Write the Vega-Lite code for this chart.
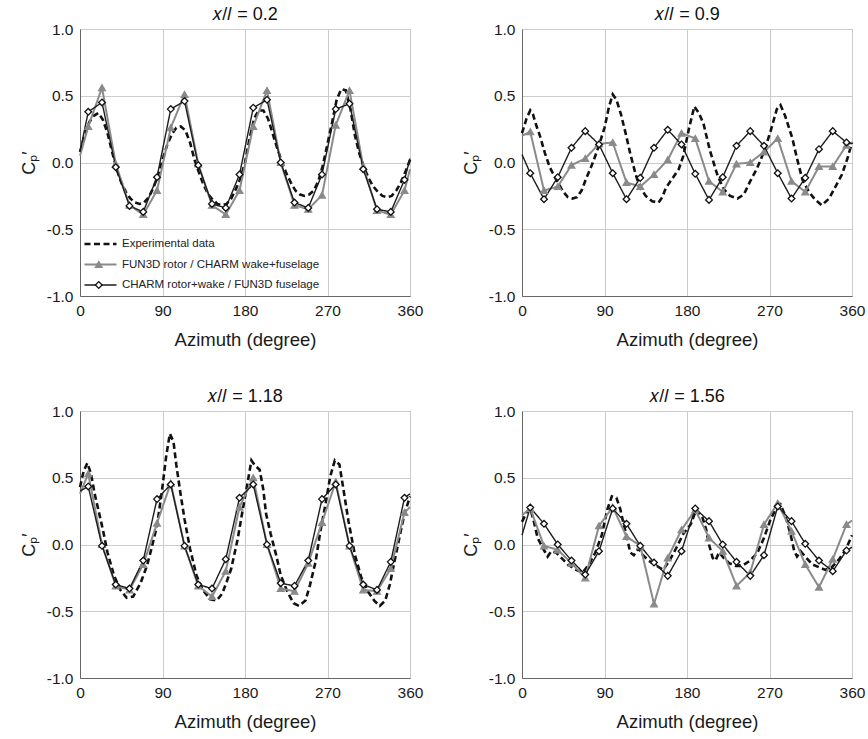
{
  "$schema": "https://vega.github.io/schema/vega-lite/v6.json",
  "padding": {"left": 19, "top": 5, "right": 5, "bottom": 5},
  "bounds": "flush",
  "columns": 2,
  "spacing": {"row": 115, "column": 112},
  "datasets": {
    "names": [
      {"s": "E", "series": "Experimental data"},
      {"s": "F", "series": "FUN3D rotor / CHARM wake+fuselage"},
      {"s": "C", "series": "CHARM rotor+wake / FUN3D fuselage"}
    ],
    "d": [
      {"p":1,"s":"E","az":0,"cp":0.08},{"p":1,"s":"E","az":5,"cp":0.2},{"p":1,"s":"E","az":10,"cp":0.3},{"p":1,"s":"E","az":15,"cp":0.35},{"p":1,"s":"E","az":20,"cp":0.37},{"p":1,"s":"E","az":25,"cp":0.32},{"p":1,"s":"E","az":30,"cp":0.22},{"p":1,"s":"E","az":35,"cp":0.08},{"p":1,"s":"E","az":40,"cp":-0.05},{"p":1,"s":"E","az":45,"cp":-0.15},{"p":1,"s":"E","az":50,"cp":-0.22},{"p":1,"s":"E","az":55,"cp":-0.27},{"p":1,"s":"E","az":60,"cp":-0.3},{"p":1,"s":"E","az":65,"cp":-0.31},{"p":1,"s":"E","az":70,"cp":-0.3},{"p":1,"s":"E","az":75,"cp":-0.26},{"p":1,"s":"E","az":80,"cp":-0.19},{"p":1,"s":"E","az":85,"cp":-0.1},{"p":1,"s":"E","az":90,"cp":0.02},{"p":1,"s":"E","az":95,"cp":0.13},{"p":1,"s":"E","az":100,"cp":0.21},{"p":1,"s":"E","az":105,"cp":0.26},{"p":1,"s":"E","az":110,"cp":0.27},{"p":1,"s":"E","az":115,"cp":0.24},{"p":1,"s":"E","az":120,"cp":0.15},{"p":1,"s":"E","az":125,"cp":0.02},{"p":1,"s":"E","az":130,"cp":-0.08},{"p":1,"s":"E","az":135,"cp":-0.17},{"p":1,"s":"E","az":140,"cp":-0.24},{"p":1,"s":"E","az":145,"cp":-0.28},{"p":1,"s":"E","az":150,"cp":-0.31},{"p":1,"s":"E","az":155,"cp":-0.32},{"p":1,"s":"E","az":160,"cp":-0.31},{"p":1,"s":"E","az":165,"cp":-0.27},{"p":1,"s":"E","az":170,"cp":-0.2},{"p":1,"s":"E","az":175,"cp":-0.12},{"p":1,"s":"E","az":180,"cp":0.0},{"p":1,"s":"E","az":185,"cp":0.18},{"p":1,"s":"E","az":190,"cp":0.33},{"p":1,"s":"E","az":195,"cp":0.39},{"p":1,"s":"E","az":200,"cp":0.39},{"p":1,"s":"E","az":205,"cp":0.33},{"p":1,"s":"E","az":210,"cp":0.22},{"p":1,"s":"E","az":215,"cp":0.11},{"p":1,"s":"E","az":220,"cp":0.01},{"p":1,"s":"E","az":225,"cp":-0.08},{"p":1,"s":"E","az":230,"cp":-0.15},{"p":1,"s":"E","az":235,"cp":-0.21},{"p":1,"s":"E","az":240,"cp":-0.24},{"p":1,"s":"E","az":245,"cp":-0.25},{"p":1,"s":"E","az":250,"cp":-0.24},{"p":1,"s":"E","az":255,"cp":-0.21},{"p":1,"s":"E","az":260,"cp":-0.14},{"p":1,"s":"E","az":265,"cp":-0.02},{"p":1,"s":"E","az":270,"cp":0.14},{"p":1,"s":"E","az":275,"cp":0.3},{"p":1,"s":"E","az":280,"cp":0.47},{"p":1,"s":"E","az":285,"cp":0.55},{"p":1,"s":"E","az":290,"cp":0.54},{"p":1,"s":"E","az":295,"cp":0.4},{"p":1,"s":"E","az":300,"cp":0.2},{"p":1,"s":"E","az":305,"cp":0.06},{"p":1,"s":"E","az":310,"cp":-0.04},{"p":1,"s":"E","az":315,"cp":-0.12},{"p":1,"s":"E","az":320,"cp":-0.18},{"p":1,"s":"E","az":325,"cp":-0.22},{"p":1,"s":"E","az":330,"cp":-0.25},{"p":1,"s":"E","az":335,"cp":-0.26},{"p":1,"s":"E","az":340,"cp":-0.25},{"p":1,"s":"E","az":345,"cp":-0.21},{"p":1,"s":"E","az":350,"cp":-0.15},{"p":1,"s":"E","az":355,"cp":-0.07},{"p":1,"s":"E","az":360,"cp":0.02},
      {"p":1,"s":"F","az":0,"cp":0.05},{"p":1,"s":"F","az":9,"cp":0.27},{"p":1,"s":"F","az":24,"cp":0.56},{"p":1,"s":"F","az":39,"cp":-0.01},{"p":1,"s":"F","az":54,"cp":-0.32},{"p":1,"s":"F","az":69,"cp":-0.39},{"p":1,"s":"F","az":84,"cp":-0.21},{"p":1,"s":"F","az":99,"cp":0.26},{"p":1,"s":"F","az":114,"cp":0.51},{"p":1,"s":"F","az":129,"cp":-0.01},{"p":1,"s":"F","az":144,"cp":-0.32},{"p":1,"s":"F","az":159,"cp":-0.39},{"p":1,"s":"F","az":174,"cp":-0.21},{"p":1,"s":"F","az":189,"cp":0.27},{"p":1,"s":"F","az":204,"cp":0.54},{"p":1,"s":"F","az":219,"cp":0.0},{"p":1,"s":"F","az":234,"cp":-0.32},{"p":1,"s":"F","az":249,"cp":-0.35},{"p":1,"s":"F","az":264,"cp":-0.245},{"p":1,"s":"F","az":279,"cp":0.28},{"p":1,"s":"F","az":294,"cp":0.54},{"p":1,"s":"F","az":309,"cp":-0.03},{"p":1,"s":"F","az":324,"cp":-0.36},{"p":1,"s":"F","az":339,"cp":-0.39},{"p":1,"s":"F","az":354,"cp":-0.21},{"p":1,"s":"F","az":360,"cp":-0.05},
      {"p":1,"s":"C","az":0,"cp":0.08},{"p":1,"s":"C","az":9,"cp":0.38},{"p":1,"s":"C","az":24,"cp":0.45},{"p":1,"s":"C","az":39,"cp":-0.035},{"p":1,"s":"C","az":54,"cp":-0.325},{"p":1,"s":"C","az":69,"cp":-0.37},{"p":1,"s":"C","az":84,"cp":-0.11},{"p":1,"s":"C","az":99,"cp":0.4},{"p":1,"s":"C","az":114,"cp":0.46},{"p":1,"s":"C","az":129,"cp":-0.02},{"p":1,"s":"C","az":144,"cp":-0.31},{"p":1,"s":"C","az":159,"cp":-0.34},{"p":1,"s":"C","az":174,"cp":-0.09},{"p":1,"s":"C","az":189,"cp":0.41},{"p":1,"s":"C","az":204,"cp":0.47},{"p":1,"s":"C","az":219,"cp":0.0},{"p":1,"s":"C","az":234,"cp":-0.3},{"p":1,"s":"C","az":249,"cp":-0.34},{"p":1,"s":"C","az":264,"cp":-0.09},{"p":1,"s":"C","az":279,"cp":0.4},{"p":1,"s":"C","az":294,"cp":0.44},{"p":1,"s":"C","az":309,"cp":-0.05},{"p":1,"s":"C","az":324,"cp":-0.35},{"p":1,"s":"C","az":339,"cp":-0.37},{"p":1,"s":"C","az":354,"cp":-0.13},{"p":1,"s":"C","az":360,"cp":0.03},

      {"p":2,"s":"E","az":0,"cp":0.22},{"p":2,"s":"E","az":5,"cp":0.33},{"p":2,"s":"E","az":9,"cp":0.39},{"p":2,"s":"E","az":12,"cp":0.36},{"p":2,"s":"E","az":15,"cp":0.29},{"p":2,"s":"E","az":20,"cp":0.19},{"p":2,"s":"E","az":25,"cp":0.07},{"p":2,"s":"E","az":30,"cp":-0.03},{"p":2,"s":"E","az":35,"cp":-0.1},{"p":2,"s":"E","az":40,"cp":-0.16},{"p":2,"s":"E","az":45,"cp":-0.22},{"p":2,"s":"E","az":50,"cp":-0.26},{"p":2,"s":"E","az":55,"cp":-0.27},{"p":2,"s":"E","az":60,"cp":-0.26},{"p":2,"s":"E","az":65,"cp":-0.21},{"p":2,"s":"E","az":70,"cp":-0.12},{"p":2,"s":"E","az":75,"cp":-0.04},{"p":2,"s":"E","az":80,"cp":0.05},{"p":2,"s":"E","az":85,"cp":0.15},{"p":2,"s":"E","az":90,"cp":0.26},{"p":2,"s":"E","az":95,"cp":0.42},{"p":2,"s":"E","az":99,"cp":0.51},{"p":2,"s":"E","az":103,"cp":0.47},{"p":2,"s":"E","az":108,"cp":0.36},{"p":2,"s":"E","az":113,"cp":0.22},{"p":2,"s":"E","az":118,"cp":0.07},{"p":2,"s":"E","az":124,"cp":-0.09},{"p":2,"s":"E","az":129,"cp":-0.19},{"p":2,"s":"E","az":135,"cp":-0.25},{"p":2,"s":"E","az":142,"cp":-0.29},{"p":2,"s":"E","az":149,"cp":-0.3},{"p":2,"s":"E","az":153,"cp":-0.26},{"p":2,"s":"E","az":157,"cp":-0.19},{"p":2,"s":"E","az":164,"cp":-0.12},{"p":2,"s":"E","az":171,"cp":-0.05},{"p":2,"s":"E","az":176,"cp":0.05},{"p":2,"s":"E","az":182,"cp":0.25},{"p":2,"s":"E","az":188,"cp":0.42},{"p":2,"s":"E","az":193,"cp":0.37},{"p":2,"s":"E","az":198,"cp":0.29},{"p":2,"s":"E","az":205,"cp":0.09},{"p":2,"s":"E","az":213,"cp":-0.09},{"p":2,"s":"E","az":220,"cp":-0.2},{"p":2,"s":"E","az":227,"cp":-0.25},{"p":2,"s":"E","az":235,"cp":-0.27},{"p":2,"s":"E","az":242,"cp":-0.24},{"p":2,"s":"E","az":249,"cp":-0.14},{"p":2,"s":"E","az":256,"cp":-0.05},{"p":2,"s":"E","az":264,"cp":0.08},{"p":2,"s":"E","az":271,"cp":0.23},{"p":2,"s":"E","az":278,"cp":0.4},{"p":2,"s":"E","az":282,"cp":0.43},{"p":2,"s":"E","az":287,"cp":0.35},{"p":2,"s":"E","az":295,"cp":0.18},{"p":2,"s":"E","az":300,"cp":0.03},{"p":2,"s":"E","az":306,"cp":-0.13},{"p":2,"s":"E","az":313,"cp":-0.22},{"p":2,"s":"E","az":320,"cp":-0.28},{"p":2,"s":"E","az":327,"cp":-0.32},{"p":2,"s":"E","az":335,"cp":-0.27},{"p":2,"s":"E","az":342,"cp":-0.18},{"p":2,"s":"E","az":349,"cp":-0.09},{"p":2,"s":"E","az":355,"cp":0.03},{"p":2,"s":"E","az":360,"cp":0.15},
      {"p":2,"s":"F","az":0,"cp":0.2},{"p":2,"s":"F","az":9,"cp":0.23},{"p":2,"s":"F","az":24,"cp":-0.21},{"p":2,"s":"F","az":39,"cp":-0.18},{"p":2,"s":"F","az":54,"cp":-0.02},{"p":2,"s":"F","az":69,"cp":0.03},{"p":2,"s":"F","az":84,"cp":0.14},{"p":2,"s":"F","az":99,"cp":0.15},{"p":2,"s":"F","az":114,"cp":-0.15},{"p":2,"s":"F","az":129,"cp":-0.18},{"p":2,"s":"F","az":144,"cp":-0.09},{"p":2,"s":"F","az":159,"cp":0.02},{"p":2,"s":"F","az":174,"cp":0.22},{"p":2,"s":"F","az":189,"cp":0.18},{"p":2,"s":"F","az":204,"cp":-0.14},{"p":2,"s":"F","az":219,"cp":-0.22},{"p":2,"s":"F","az":234,"cp":-0.01},{"p":2,"s":"F","az":249,"cp":0.0},{"p":2,"s":"F","az":264,"cp":0.08},{"p":2,"s":"F","az":279,"cp":0.18},{"p":2,"s":"F","az":294,"cp":-0.14},{"p":2,"s":"F","az":309,"cp":-0.22},{"p":2,"s":"F","az":324,"cp":-0.03},{"p":2,"s":"F","az":339,"cp":-0.03},{"p":2,"s":"F","az":354,"cp":0.13},{"p":2,"s":"F","az":360,"cp":0.15},
      {"p":2,"s":"C","az":0,"cp":0.06},{"p":2,"s":"C","az":9,"cp":-0.08},{"p":2,"s":"C","az":24,"cp":-0.275},{"p":2,"s":"C","az":39,"cp":-0.11},{"p":2,"s":"C","az":54,"cp":0.11},{"p":2,"s":"C","az":69,"cp":0.235},{"p":2,"s":"C","az":84,"cp":0.135},{"p":2,"s":"C","az":99,"cp":-0.08},{"p":2,"s":"C","az":114,"cp":-0.275},{"p":2,"s":"C","az":129,"cp":-0.115},{"p":2,"s":"C","az":144,"cp":0.11},{"p":2,"s":"C","az":159,"cp":0.245},{"p":2,"s":"C","az":174,"cp":0.135},{"p":2,"s":"C","az":189,"cp":-0.085},{"p":2,"s":"C","az":204,"cp":-0.28},{"p":2,"s":"C","az":219,"cp":-0.11},{"p":2,"s":"C","az":234,"cp":0.125},{"p":2,"s":"C","az":249,"cp":0.235},{"p":2,"s":"C","az":264,"cp":0.125},{"p":2,"s":"C","az":279,"cp":-0.08},{"p":2,"s":"C","az":294,"cp":-0.27},{"p":2,"s":"C","az":309,"cp":-0.115},{"p":2,"s":"C","az":324,"cp":0.1},{"p":2,"s":"C","az":339,"cp":0.235},{"p":2,"s":"C","az":354,"cp":0.15},{"p":2,"s":"C","az":360,"cp":0.14},

      {"p":3,"s":"E","az":0,"cp":0.43},{"p":3,"s":"E","az":4,"cp":0.55},{"p":3,"s":"E","az":8,"cp":0.61},{"p":3,"s":"E","az":12,"cp":0.53},{"p":3,"s":"E","az":16,"cp":0.38},{"p":3,"s":"E","az":20,"cp":0.26},{"p":3,"s":"E","az":25,"cp":0.11},{"p":3,"s":"E","az":30,"cp":-0.06},{"p":3,"s":"E","az":37,"cp":-0.23},{"p":3,"s":"E","az":44,"cp":-0.34},{"p":3,"s":"E","az":51,"cp":-0.4},{"p":3,"s":"E","az":58,"cp":-0.39},{"p":3,"s":"E","az":66,"cp":-0.29},{"p":3,"s":"E","az":73,"cp":-0.16},{"p":3,"s":"E","az":78,"cp":-0.03},{"p":3,"s":"E","az":84,"cp":0.14},{"p":3,"s":"E","az":89,"cp":0.38},{"p":3,"s":"E","az":94,"cp":0.66},{"p":3,"s":"E","az":98,"cp":0.83},{"p":3,"s":"E","az":102,"cp":0.77},{"p":3,"s":"E","az":105,"cp":0.6},{"p":3,"s":"E","az":109,"cp":0.41},{"p":3,"s":"E","az":114,"cp":0.19},{"p":3,"s":"E","az":120,"cp":-0.03},{"p":3,"s":"E","az":127,"cp":-0.23},{"p":3,"s":"E","az":134,"cp":-0.34},{"p":3,"s":"E","az":142,"cp":-0.41},{"p":3,"s":"E","az":149,"cp":-0.42},{"p":3,"s":"E","az":155,"cp":-0.37},{"p":3,"s":"E","az":160,"cp":-0.28},{"p":3,"s":"E","az":165,"cp":-0.18},{"p":3,"s":"E","az":172,"cp":0.04},{"p":3,"s":"E","az":177,"cp":0.24},{"p":3,"s":"E","az":183,"cp":0.47},{"p":3,"s":"E","az":187,"cp":0.63},{"p":3,"s":"E","az":191,"cp":0.59},{"p":3,"s":"E","az":196,"cp":0.56},{"p":3,"s":"E","az":200,"cp":0.41},{"p":3,"s":"E","az":203,"cp":0.23},{"p":3,"s":"E","az":208,"cp":0.08},{"p":3,"s":"E","az":214,"cp":-0.08},{"p":3,"s":"E","az":219,"cp":-0.23},{"p":3,"s":"E","az":226,"cp":-0.35},{"p":3,"s":"E","az":233,"cp":-0.44},{"p":3,"s":"E","az":239,"cp":-0.46},{"p":3,"s":"E","az":246,"cp":-0.42},{"p":3,"s":"E","az":251,"cp":-0.3},{"p":3,"s":"E","az":257,"cp":-0.13},{"p":3,"s":"E","az":262,"cp":0.09},{"p":3,"s":"E","az":268,"cp":0.31},{"p":3,"s":"E","az":273,"cp":0.51},{"p":3,"s":"E","az":278,"cp":0.63},{"p":3,"s":"E","az":283,"cp":0.6},{"p":3,"s":"E","az":287,"cp":0.43},{"p":3,"s":"E","az":293,"cp":0.17},{"p":3,"s":"E","az":300,"cp":-0.08},{"p":3,"s":"E","az":307,"cp":-0.25},{"p":3,"s":"E","az":314,"cp":-0.35},{"p":3,"s":"E","az":321,"cp":-0.42},{"p":3,"s":"E","az":327,"cp":-0.46},{"p":3,"s":"E","az":333,"cp":-0.42},{"p":3,"s":"E","az":338,"cp":-0.3},{"p":3,"s":"E","az":343,"cp":-0.13},{"p":3,"s":"E","az":349,"cp":0.07},{"p":3,"s":"E","az":354,"cp":0.23},{"p":3,"s":"E","az":360,"cp":0.36},
      {"p":3,"s":"F","az":0,"cp":0.38},{"p":3,"s":"F","az":9,"cp":0.53},{"p":3,"s":"F","az":24,"cp":0.0},{"p":3,"s":"F","az":39,"cp":-0.31},{"p":3,"s":"F","az":54,"cp":-0.34},{"p":3,"s":"F","az":69,"cp":-0.15},{"p":3,"s":"F","az":84,"cp":0.16},{"p":3,"s":"F","az":99,"cp":0.46},{"p":3,"s":"F","az":114,"cp":-0.01},{"p":3,"s":"F","az":129,"cp":-0.31},{"p":3,"s":"F","az":144,"cp":-0.39},{"p":3,"s":"F","az":159,"cp":-0.2},{"p":3,"s":"F","az":174,"cp":0.28},{"p":3,"s":"F","az":189,"cp":0.5},{"p":3,"s":"F","az":204,"cp":0.0},{"p":3,"s":"F","az":219,"cp":-0.33},{"p":3,"s":"F","az":234,"cp":-0.35},{"p":3,"s":"F","az":249,"cp":-0.14},{"p":3,"s":"F","az":264,"cp":0.165},{"p":3,"s":"F","az":279,"cp":0.47},{"p":3,"s":"F","az":294,"cp":-0.01},{"p":3,"s":"F","az":309,"cp":-0.34},{"p":3,"s":"F","az":324,"cp":-0.35},{"p":3,"s":"F","az":339,"cp":-0.18},{"p":3,"s":"F","az":354,"cp":0.24},{"p":3,"s":"F","az":360,"cp":0.28},
      {"p":3,"s":"C","az":0,"cp":0.4},{"p":3,"s":"C","az":9,"cp":0.435},{"p":3,"s":"C","az":24,"cp":-0.01},{"p":3,"s":"C","az":39,"cp":-0.3},{"p":3,"s":"C","az":54,"cp":-0.33},{"p":3,"s":"C","az":69,"cp":-0.12},{"p":3,"s":"C","az":84,"cp":0.34},{"p":3,"s":"C","az":99,"cp":0.45},{"p":3,"s":"C","az":114,"cp":-0.01},{"p":3,"s":"C","az":129,"cp":-0.3},{"p":3,"s":"C","az":144,"cp":-0.33},{"p":3,"s":"C","az":159,"cp":-0.11},{"p":3,"s":"C","az":174,"cp":0.35},{"p":3,"s":"C","az":189,"cp":0.45},{"p":3,"s":"C","az":204,"cp":0.0},{"p":3,"s":"C","az":219,"cp":-0.29},{"p":3,"s":"C","az":234,"cp":-0.31},{"p":3,"s":"C","az":249,"cp":-0.12},{"p":3,"s":"C","az":264,"cp":0.34},{"p":3,"s":"C","az":279,"cp":0.45},{"p":3,"s":"C","az":294,"cp":-0.01},{"p":3,"s":"C","az":309,"cp":-0.3},{"p":3,"s":"C","az":324,"cp":-0.34},{"p":3,"s":"C","az":339,"cp":-0.13},{"p":3,"s":"C","az":354,"cp":0.35},{"p":3,"s":"C","az":360,"cp":0.38},

      {"p":4,"s":"E","az":0,"cp":0.17},{"p":4,"s":"E","az":5,"cp":0.24},{"p":4,"s":"E","az":9,"cp":0.27},{"p":4,"s":"E","az":13,"cp":0.17},{"p":4,"s":"E","az":17,"cp":0.05},{"p":4,"s":"E","az":23,"cp":-0.03},{"p":4,"s":"E","az":28,"cp":-0.09},{"p":4,"s":"E","az":32,"cp":-0.05},{"p":4,"s":"E","az":37,"cp":-0.06},{"p":4,"s":"E","az":43,"cp":-0.1},{"p":4,"s":"E","az":50,"cp":-0.15},{"p":4,"s":"E","az":59,"cp":-0.19},{"p":4,"s":"E","az":66,"cp":-0.21},{"p":4,"s":"E","az":73,"cp":-0.15},{"p":4,"s":"E","az":80,"cp":-0.06},{"p":4,"s":"E","az":87,"cp":0.07},{"p":4,"s":"E","az":93,"cp":0.26},{"p":4,"s":"E","az":98,"cp":0.36},{"p":4,"s":"E","az":103,"cp":0.35},{"p":4,"s":"E","az":107,"cp":0.27},{"p":4,"s":"E","az":111,"cp":0.15},{"p":4,"s":"E","az":115,"cp":0.04},{"p":4,"s":"E","az":118,"cp":-0.06},{"p":4,"s":"E","az":122,"cp":-0.08},{"p":4,"s":"E","az":127,"cp":-0.03},{"p":4,"s":"E","az":132,"cp":-0.08},{"p":4,"s":"E","az":138,"cp":-0.12},{"p":4,"s":"E","az":147,"cp":-0.16},{"p":4,"s":"E","az":154,"cp":-0.19},{"p":4,"s":"E","az":161,"cp":-0.12},{"p":4,"s":"E","az":168,"cp":-0.03},{"p":4,"s":"E","az":176,"cp":0.08},{"p":4,"s":"E","az":184,"cp":0.15},{"p":4,"s":"E","az":190,"cp":0.26},{"p":4,"s":"E","az":197,"cp":0.2},{"p":4,"s":"E","az":201,"cp":0.11},{"p":4,"s":"E","az":204,"cp":0.0},{"p":4,"s":"E","az":208,"cp":-0.1},{"p":4,"s":"E","az":211,"cp":-0.12},{"p":4,"s":"E","az":215,"cp":-0.06},{"p":4,"s":"E","az":220,"cp":-0.1},{"p":4,"s":"E","az":226,"cp":-0.14},{"p":4,"s":"E","az":233,"cp":-0.16},{"p":4,"s":"E","az":240,"cp":-0.16},{"p":4,"s":"E","az":249,"cp":-0.12},{"p":4,"s":"E","az":257,"cp":-0.06},{"p":4,"s":"E","az":264,"cp":0.05},{"p":4,"s":"E","az":271,"cp":0.185},{"p":4,"s":"E","az":277,"cp":0.27},{"p":4,"s":"E","az":282,"cp":0.3},{"p":4,"s":"E","az":288,"cp":0.2},{"p":4,"s":"E","az":293,"cp":0.075},{"p":4,"s":"E","az":297,"cp":-0.05},{"p":4,"s":"E","az":300,"cp":-0.09},{"p":4,"s":"E","az":304,"cp":-0.05},{"p":4,"s":"E","az":310,"cp":-0.1},{"p":4,"s":"E","az":317,"cp":-0.15},{"p":4,"s":"E","az":324,"cp":-0.17},{"p":4,"s":"E","az":331,"cp":-0.19},{"p":4,"s":"E","az":338,"cp":-0.17},{"p":4,"s":"E","az":346,"cp":-0.11},{"p":4,"s":"E","az":353,"cp":-0.04},{"p":4,"s":"E","az":360,"cp":0.07},
      {"p":4,"s":"F","az":0,"cp":0.22},{"p":4,"s":"F","az":9,"cp":0.27},{"p":4,"s":"F","az":24,"cp":-0.01},{"p":4,"s":"F","az":39,"cp":-0.04},{"p":4,"s":"F","az":54,"cp":-0.14},{"p":4,"s":"F","az":69,"cp":-0.25},{"p":4,"s":"F","az":84,"cp":0.14},{"p":4,"s":"F","az":99,"cp":0.28},{"p":4,"s":"F","az":114,"cp":0.06},{"p":4,"s":"F","az":129,"cp":-0.01},{"p":4,"s":"F","az":144,"cp":-0.445},{"p":4,"s":"F","az":159,"cp":-0.1},{"p":4,"s":"F","az":174,"cp":0.11},{"p":4,"s":"F","az":189,"cp":0.26},{"p":4,"s":"F","az":204,"cp":0.05},{"p":4,"s":"F","az":219,"cp":-0.05},{"p":4,"s":"F","az":234,"cp":-0.31},{"p":4,"s":"F","az":249,"cp":-0.21},{"p":4,"s":"F","az":264,"cp":0.15},{"p":4,"s":"F","az":279,"cp":0.31},{"p":4,"s":"F","az":294,"cp":0.1},{"p":4,"s":"F","az":309,"cp":-0.15},{"p":4,"s":"F","az":324,"cp":-0.32},{"p":4,"s":"F","az":339,"cp":-0.11},{"p":4,"s":"F","az":354,"cp":0.15},{"p":4,"s":"F","az":360,"cp":0.18},
      {"p":4,"s":"C","az":0,"cp":0.07},{"p":4,"s":"C","az":9,"cp":0.277},{"p":4,"s":"C","az":24,"cp":0.155},{"p":4,"s":"C","az":39,"cp":0.0},{"p":4,"s":"C","az":54,"cp":-0.12},{"p":4,"s":"C","az":69,"cp":-0.225},{"p":4,"s":"C","az":84,"cp":-0.05},{"p":4,"s":"C","az":99,"cp":0.27},{"p":4,"s":"C","az":114,"cp":0.155},{"p":4,"s":"C","az":129,"cp":-0.01},{"p":4,"s":"C","az":144,"cp":-0.135},{"p":4,"s":"C","az":159,"cp":-0.235},{"p":4,"s":"C","az":174,"cp":-0.05},{"p":4,"s":"C","az":189,"cp":0.27},{"p":4,"s":"C","az":204,"cp":0.175},{"p":4,"s":"C","az":219,"cp":0.0},{"p":4,"s":"C","az":234,"cp":-0.13},{"p":4,"s":"C","az":249,"cp":-0.235},{"p":4,"s":"C","az":264,"cp":-0.08},{"p":4,"s":"C","az":279,"cp":0.285},{"p":4,"s":"C","az":294,"cp":0.175},{"p":4,"s":"C","az":309,"cp":0.005},{"p":4,"s":"C","az":324,"cp":-0.12},{"p":4,"s":"C","az":339,"cp":-0.2},{"p":4,"s":"C","az":354,"cp":-0.045},{"p":4,"s":"C","az":360,"cp":-0.02}
    ]
  },
  "resolve": {"scale": {"color": "independent", "strokeDash": "independent", "strokeWidth": "independent", "shape": "independent", "fill": "independent", "stroke": "independent"}},
  "concat": [
    {
      "width": 330, "height": 267,
      "title": {"text": "𝑥/𝑙 = 0.2"},
      "data": {"name": "d"},
      "transform": [{"filter": "datum.p == 1"}, {"lookup": "s", "from": {"data": {"name": "names"}, "key": "s", "fields": ["series"]}}],
      "layer": [
        {
          "mark": {"type": "line"},
          "encoding": {
            "x": {"field": "az", "type": "quantitative", "scale": {"domain": [0, 360], "nice": false}, "axis": {"values": [0, 90, 180, 270, 360], "title": "Azimuth (degree)"}},
            "y": {"field": "cp", "type": "quantitative", "scale": {"domain": [-1, 1]}, "axis": {"values": [-1, -0.5, 0, 0.5, 1], "title": "Cₚ′", "labelExpr": "replace(format(datum.value, '.1f'), '−', '-')"}},
            "color": {"field": "series", "type": "nominal", "scale": {"domain": ["Experimental data", "FUN3D rotor / CHARM wake+fuselage", "CHARM rotor+wake / FUN3D fuselage"], "range": ["#111111", "#8a8a8a", "#1c1c1c"]},
              "legend": {"orient": "none", "legendX": 3, "legendY": 209, "title": null, "symbolType": "stroke", "symbolSize": 1024, "labelFontSize": 11.5, "labelColor": "#222222", "labelLimit": 400, "rowPadding": 8.5, "clipHeight": 12, "padding": 0, "labelOffset": 4}},
            "strokeDash": {"field": "series", "type": "nominal", "scale": {"domain": ["Experimental data", "FUN3D rotor / CHARM wake+fuselage", "CHARM rotor+wake / FUN3D fuselage"], "range": [[6, 3.5], [1, 0], [1, 0]]}},
            "strokeWidth": {"field": "series", "type": "nominal", "scale": {"domain": ["Experimental data", "FUN3D rotor / CHARM wake+fuselage", "CHARM rotor+wake / FUN3D fuselage"], "range": [2.6, 1.4, 1.8]}}
          }
        },
        {
          "transform": [{"filter": "datum.s != 'E' && datum.az > 0 && datum.az < 360"}],
          "mark": {"type": "point", "size": 45, "strokeWidth": 1.3, "opacity": 1},
          "encoding": {
            "x": {"field": "az", "type": "quantitative"},
            "y": {"field": "cp", "type": "quantitative"},
            "shape": {"field": "series", "type": "nominal", "scale": {"domain": ["FUN3D rotor / CHARM wake+fuselage", "CHARM rotor+wake / FUN3D fuselage"], "range": ["triangle-up", "diamond"]},
              "legend": {"orient": "none", "legendX": 13, "legendY": 229.5, "title": null, "symbolSize": 45, "labelFontSize": 11.5, "labelExpr": "''", "rowPadding": 8.5, "clipHeight": 12, "padding": 0, "symbolStrokeWidth": 1.3}},
            "fill": {"field": "series", "type": "nominal", "scale": {"domain": ["FUN3D rotor / CHARM wake+fuselage", "CHARM rotor+wake / FUN3D fuselage"], "range": ["#8a8a8a", "#ffffff"]}},
            "stroke": {"field": "series", "type": "nominal", "scale": {"domain": ["FUN3D rotor / CHARM wake+fuselage", "CHARM rotor+wake / FUN3D fuselage"], "range": ["#8a8a8a", "#111111"]}}
          }
        }
      ]
    },
    {
      "width": 330, "height": 267,
      "title": {"text": "𝑥/𝑙 = 0.9"},
      "data": {"name": "d"},
      "transform": [{"filter": "datum.p == 2"}, {"lookup": "s", "from": {"data": {"name": "names"}, "key": "s", "fields": ["series"]}}],
      "layer": [
        {
          "mark": {"type": "line"},
          "encoding": {
            "x": {"field": "az", "type": "quantitative", "scale": {"domain": [0, 360], "nice": false}, "axis": {"values": [0, 90, 180, 270, 360], "title": "Azimuth (degree)"}},
            "y": {"field": "cp", "type": "quantitative", "scale": {"domain": [-1, 1]}, "axis": {"values": [-1, -0.5, 0, 0.5, 1], "title": "Cₚ′", "labelExpr": "replace(format(datum.value, '.1f'), '−', '-')"}},
            "color": {"field": "series", "type": "nominal", "scale": {"domain": ["Experimental data", "FUN3D rotor / CHARM wake+fuselage", "CHARM rotor+wake / FUN3D fuselage"], "range": ["#111111", "#8a8a8a", "#1c1c1c"]}, "legend": null},
            "strokeDash": {"field": "series", "type": "nominal", "scale": {"domain": ["Experimental data", "FUN3D rotor / CHARM wake+fuselage", "CHARM rotor+wake / FUN3D fuselage"], "range": [[6, 3.5], [1, 0], [1, 0]]}, "legend": null},
            "strokeWidth": {"field": "series", "type": "nominal", "scale": {"domain": ["Experimental data", "FUN3D rotor / CHARM wake+fuselage", "CHARM rotor+wake / FUN3D fuselage"], "range": [2.6, 1.4, 1.8]}, "legend": null}
          }
        },
        {
          "transform": [{"filter": "datum.s != 'E' && datum.az > 0 && datum.az < 360"}],
          "mark": {"type": "point", "size": 45, "strokeWidth": 1.3, "opacity": 1},
          "encoding": {
            "x": {"field": "az", "type": "quantitative"},
            "y": {"field": "cp", "type": "quantitative"},
            "shape": {"field": "series", "type": "nominal", "scale": {"domain": ["FUN3D rotor / CHARM wake+fuselage", "CHARM rotor+wake / FUN3D fuselage"], "range": ["triangle-up", "diamond"]}, "legend": null},
            "fill": {"field": "series", "type": "nominal", "scale": {"domain": ["FUN3D rotor / CHARM wake+fuselage", "CHARM rotor+wake / FUN3D fuselage"], "range": ["#8a8a8a", "#ffffff"]}, "legend": null},
            "stroke": {"field": "series", "type": "nominal", "scale": {"domain": ["FUN3D rotor / CHARM wake+fuselage", "CHARM rotor+wake / FUN3D fuselage"], "range": ["#8a8a8a", "#111111"]}, "legend": null}
          }
        }
      ]
    },
    {
      "width": 330, "height": 267,
      "title": {"text": "𝑥/𝑙 = 1.18"},
      "data": {"name": "d"},
      "transform": [{"filter": "datum.p == 3"}, {"lookup": "s", "from": {"data": {"name": "names"}, "key": "s", "fields": ["series"]}}],
      "layer": [
        {
          "mark": {"type": "line"},
          "encoding": {
            "x": {"field": "az", "type": "quantitative", "scale": {"domain": [0, 360], "nice": false}, "axis": {"values": [0, 90, 180, 270, 360], "title": "Azimuth (degree)"}},
            "y": {"field": "cp", "type": "quantitative", "scale": {"domain": [-1, 1]}, "axis": {"values": [-1, -0.5, 0, 0.5, 1], "title": "Cₚ′", "labelExpr": "replace(format(datum.value, '.1f'), '−', '-')"}},
            "color": {"field": "series", "type": "nominal", "scale": {"domain": ["Experimental data", "FUN3D rotor / CHARM wake+fuselage", "CHARM rotor+wake / FUN3D fuselage"], "range": ["#111111", "#8a8a8a", "#1c1c1c"]}, "legend": null},
            "strokeDash": {"field": "series", "type": "nominal", "scale": {"domain": ["Experimental data", "FUN3D rotor / CHARM wake+fuselage", "CHARM rotor+wake / FUN3D fuselage"], "range": [[6, 3.5], [1, 0], [1, 0]]}, "legend": null},
            "strokeWidth": {"field": "series", "type": "nominal", "scale": {"domain": ["Experimental data", "FUN3D rotor / CHARM wake+fuselage", "CHARM rotor+wake / FUN3D fuselage"], "range": [2.6, 1.4, 1.8]}, "legend": null}
          }
        },
        {
          "transform": [{"filter": "datum.s != 'E' && datum.az > 0 && datum.az < 360"}],
          "mark": {"type": "point", "size": 45, "strokeWidth": 1.3, "opacity": 1},
          "encoding": {
            "x": {"field": "az", "type": "quantitative"},
            "y": {"field": "cp", "type": "quantitative"},
            "shape": {"field": "series", "type": "nominal", "scale": {"domain": ["FUN3D rotor / CHARM wake+fuselage", "CHARM rotor+wake / FUN3D fuselage"], "range": ["triangle-up", "diamond"]}, "legend": null},
            "fill": {"field": "series", "type": "nominal", "scale": {"domain": ["FUN3D rotor / CHARM wake+fuselage", "CHARM rotor+wake / FUN3D fuselage"], "range": ["#8a8a8a", "#ffffff"]}, "legend": null},
            "stroke": {"field": "series", "type": "nominal", "scale": {"domain": ["FUN3D rotor / CHARM wake+fuselage", "CHARM rotor+wake / FUN3D fuselage"], "range": ["#8a8a8a", "#111111"]}, "legend": null}
          }
        }
      ]
    },
    {
      "width": 330, "height": 267,
      "title": {"text": "𝑥/𝑙 = 1.56"},
      "data": {"name": "d"},
      "transform": [{"filter": "datum.p == 4"}, {"lookup": "s", "from": {"data": {"name": "names"}, "key": "s", "fields": ["series"]}}],
      "layer": [
        {
          "mark": {"type": "line"},
          "encoding": {
            "x": {"field": "az", "type": "quantitative", "scale": {"domain": [0, 360], "nice": false}, "axis": {"values": [0, 90, 180, 270, 360], "title": "Azimuth (degree)"}},
            "y": {"field": "cp", "type": "quantitative", "scale": {"domain": [-1, 1]}, "axis": {"values": [-1, -0.5, 0, 0.5, 1], "title": "Cₚ′", "labelExpr": "replace(format(datum.value, '.1f'), '−', '-')"}},
            "color": {"field": "series", "type": "nominal", "scale": {"domain": ["Experimental data", "FUN3D rotor / CHARM wake+fuselage", "CHARM rotor+wake / FUN3D fuselage"], "range": ["#111111", "#8a8a8a", "#1c1c1c"]}, "legend": null},
            "strokeDash": {"field": "series", "type": "nominal", "scale": {"domain": ["Experimental data", "FUN3D rotor / CHARM wake+fuselage", "CHARM rotor+wake / FUN3D fuselage"], "range": [[6, 3.5], [1, 0], [1, 0]]}, "legend": null},
            "strokeWidth": {"field": "series", "type": "nominal", "scale": {"domain": ["Experimental data", "FUN3D rotor / CHARM wake+fuselage", "CHARM rotor+wake / FUN3D fuselage"], "range": [2.6, 1.4, 1.8]}, "legend": null}
          }
        },
        {
          "transform": [{"filter": "datum.s != 'E' && datum.az > 0 && datum.az < 360"}],
          "mark": {"type": "point", "size": 45, "strokeWidth": 1.3, "opacity": 1},
          "encoding": {
            "x": {"field": "az", "type": "quantitative"},
            "y": {"field": "cp", "type": "quantitative"},
            "shape": {"field": "series", "type": "nominal", "scale": {"domain": ["FUN3D rotor / CHARM wake+fuselage", "CHARM rotor+wake / FUN3D fuselage"], "range": ["triangle-up", "diamond"]}, "legend": null},
            "fill": {"field": "series", "type": "nominal", "scale": {"domain": ["FUN3D rotor / CHARM wake+fuselage", "CHARM rotor+wake / FUN3D fuselage"], "range": ["#8a8a8a", "#ffffff"]}, "legend": null},
            "stroke": {"field": "series", "type": "nominal", "scale": {"domain": ["FUN3D rotor / CHARM wake+fuselage", "CHARM rotor+wake / FUN3D fuselage"], "range": ["#8a8a8a", "#111111"]}, "legend": null}
          }
        }
      ]
    }
  ],
  "config": {
    "font": "Liberation Sans",
    "view": {"stroke": "#888888", "strokeWidth": 1},
    "axis": {"labelFontSize": 15.5, "labelColor": "#1a1a1a", "titleFontSize": 18.5, "titleFontWeight": "normal", "titleColor": "#1a1a1a", "gridColor": "#cccccc", "gridWidth": 1, "domainColor": "#666666", "ticks": false, "labelFlush": false, "labelPadding": 7, "labelOverlap": false},
    "axisX": {"titlePadding": 12},
    "axisY": {"titlePadding": 8, "titleFontSize": 18},
    "title": {"fontSize": 18, "fontWeight": "normal", "color": "#111111", "offset": -2}
  }
}
